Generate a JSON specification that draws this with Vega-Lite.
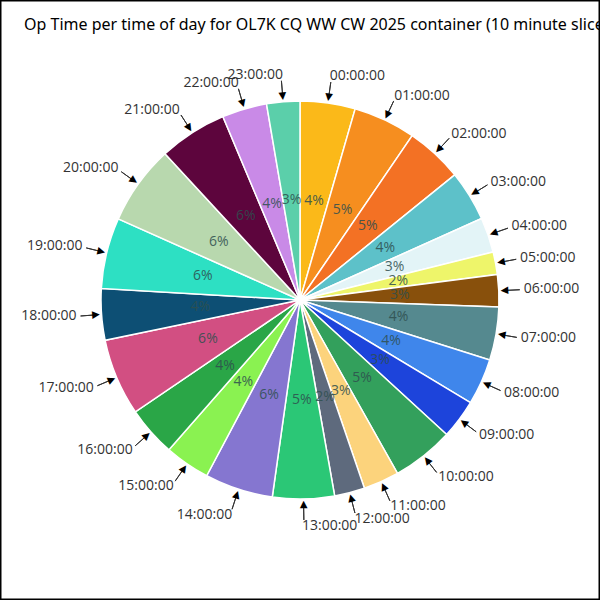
{
  "$schema": "https://vega.github.io/schema/vega-lite/v6.json",
  "width": 600,
  "height": 600,
  "autosize": {"type": "none"},
  "padding": 0,
  "background": "white",
  "config": {"view": {"stroke": "black", "strokeWidth": 2}},
  "title": {
    "text": "Op Time per time of day for OL7K CQ WW CW 2025 container (10 minute slices)",
    "anchor": "start",
    "frame": "group",
    "offset": -34,
    "dx": 24,
    "font": "Noto Sans",
    "fontSize": 16,
    "fontWeight": "normal",
    "color": "black"
  },
  "data": {
    "values": [
      {"hour": "00:00:00", "value": 4.47},
      {"hour": "01:00:00", "value": 5.06},
      {"hour": "02:00:00", "value": 4.64},
      {"hour": "03:00:00", "value": 4.11},
      {"hour": "04:00:00", "value": 2.83},
      {"hour": "05:00:00", "value": 1.83},
      {"hour": "06:00:00", "value": 2.61},
      {"hour": "07:00:00", "value": 4.31},
      {"hour": "08:00:00", "value": 3.75},
      {"hour": "09:00:00", "value": 3.19},
      {"hour": "10:00:00", "value": 5.03},
      {"hour": "11:00:00", "value": 2.9},
      {"hour": "12:00:00", "value": 2.46},
      {"hour": "13:00:00", "value": 5.01},
      {"hour": "14:00:00", "value": 5.54},
      {"hour": "15:00:00", "value": 3.67},
      {"hour": "16:00:00", "value": 4.06},
      {"hour": "17:00:00", "value": 6.25},
      {"hour": "18:00:00", "value": 4.17},
      {"hour": "19:00:00", "value": 5.75},
      {"hour": "20:00:00", "value": 6.45},
      {"hour": "21:00:00", "value": 5.53},
      {"hour": "22:00:00", "value": 3.64},
      {"hour": "23:00:00", "value": 2.69}
    ]
  },
  "transform": [
    {"joinaggregate": [{"op": "sum", "field": "value", "as": "total"}]},
    {"window": [{"op": "sum", "field": "value", "as": "cum"}], "sort": [{"field": "hour", "order": "ascending"}], "frame": [null, 0]},
    {"calculate": "(datum.cum - datum.value) / datum.total", "as": "start"},
    {"calculate": "datum.cum / datum.total", "as": "end"},
    {"calculate": "(datum.cum - datum.value / 2) / datum.total", "as": "mid"},
    {"calculate": "datum.value / datum.total", "as": "pct"},
    {"calculate": "datum.mid * 360", "as": "deg"}
  ],
  "layer": [
    {
      "mark": {"type": "arc", "outerRadius": 199, "stroke": "white", "strokeWidth": 1.5},
      "encoding": {
        "theta": {"field": "start", "type": "quantitative", "scale": {"domain": [0, 1], "range": [0, 6.283185307]}, "stack": null},
        "theta2": {"field": "end"},
        "color": {
          "field": "hour",
          "type": "nominal",
          "legend": null,
          "scale": {
            "domain": ["00:00:00","01:00:00","02:00:00","03:00:00","04:00:00","05:00:00","06:00:00","07:00:00","08:00:00","09:00:00","10:00:00","11:00:00","12:00:00","13:00:00","14:00:00","15:00:00","16:00:00","17:00:00","18:00:00","19:00:00","20:00:00","21:00:00","22:00:00","23:00:00"],
            "range": ["#FBB919","#F68E1F","#F37124","#5DC1C9","#E3F4F7","#EEF56A","#88500C","#55898F","#3F86EB","#1D44DB","#33A05C","#FCD37C","#5E6A7D","#2BC776","#8576D0","#8AF251","#2AA647","#D24F82","#0D4F74","#2DE0C3","#B8D8AE","#5D053D","#C98AE7","#5BCFAA"]
          }
        }
      }
    },
    {
      "mark": {"type": "text", "radius": 100, "font": "Open Sans", "fontSize": 14, "color": "#2F4F4F", "opacity": 0.85, "align": "center", "baseline": "middle"},
      "encoding": {
        "theta": {"field": "mid", "type": "quantitative", "stack": null},
        "text": {"field": "pct", "type": "quantitative", "format": ".0%"}
      }
    },
    {
      "mark": {"type": "arc", "radius": 220, "radius2": 206, "stroke": "#333333", "strokeWidth": 1, "fill": "#333333"},
      "encoding": {
        "theta": {"field": "mid", "type": "quantitative", "stack": null},
        "theta2": {"field": "mid"}
      }
    },
    {
      "mark": {"type": "text", "radius": 205, "text": "▼", "fontSize": 13, "color": "black", "align": "center", "baseline": "middle"},
      "encoding": {
        "theta": {"field": "mid", "type": "quantitative", "stack": null},
        "angle": {"field": "deg", "type": "quantitative", "scale": null}
      }
    },
    {
      "transform": [{"filter": "datum.mid < 0.5"}],
      "mark": {"type": "text", "radius": 226, "font": "Open Sans", "fontSize": 14, "color": "#333333", "align": "left", "baseline": "middle", "dx": -2},
      "encoding": {
        "theta": {"field": "mid", "type": "quantitative", "stack": null},
        "text": {"field": "hour", "type": "nominal"}
      }
    },
    {
      "transform": [{"filter": "datum.mid >= 0.5"}],
      "mark": {"type": "text", "radius": 226, "font": "Open Sans", "fontSize": 14, "color": "#333333", "align": "right", "baseline": "middle", "dx": 2},
      "encoding": {
        "theta": {"field": "mid", "type": "quantitative", "stack": null},
        "text": {"field": "hour", "type": "nominal"}
      }
    },
    {
      "data": {"values": [{"frame": "border"}]},
      "mark": {"type": "rect", "fill": "transparent", "stroke": "black", "strokeWidth": 3},
      "encoding": {}
    }
  ]
}
